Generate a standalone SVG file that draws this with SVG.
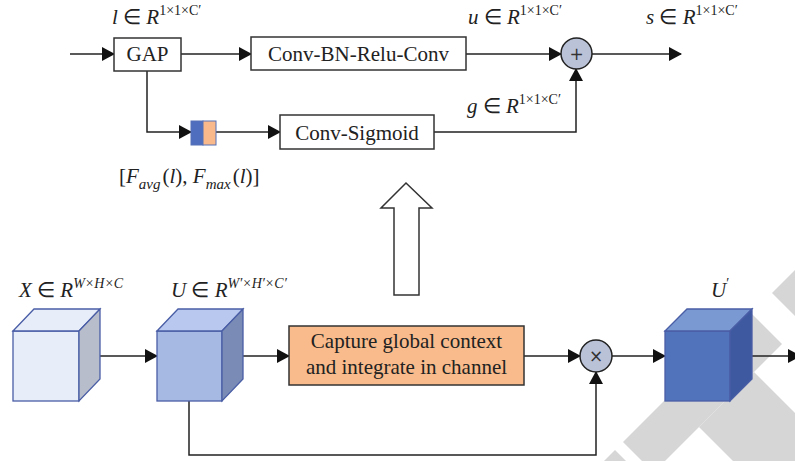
<svg xmlns="http://www.w3.org/2000/svg" width="795" height="461" viewBox="0 0 795 461">
<style>
  .ln{fill:none;stroke:#222;stroke-width:1.5}
  .box{fill:#fff;stroke:#333;stroke-width:1.5}
  .t{font-family:"Liberation Serif","Times New Roman",serif;font-size:21px;fill:#222}
  .m{font-family:"Liberation Serif","Times New Roman",serif;font-size:21px;fill:#222}
  .i{font-style:italic}
  .sup{font-size:14px}
  .op{fill:#bac2d8;stroke:#222;stroke-width:1.5}
  .wm{fill:#d6d6d6}
  .cs{stroke:#4a5ea6;stroke-width:1.3}
</style>
<defs>
  <marker id="ah" markerUnits="userSpaceOnUse" markerWidth="13" markerHeight="14" refX="12" refY="7" orient="auto">
    <path d="M0,0 L13,7 L0,14 z" fill="#111"/>
  </marker>
</defs>
<rect width="795" height="461" fill="#fff"/>
<g id="watermark">
  <polygon class="wm" points="751.5,313.5 782,344 653.5,472.5 623,442"/>
  <polygon class="wm" points="772,293 832,233 863,263 802.5,323.5"/>
  <polygon class="wm" points="699,427 754,372 891,509 836,564"/>
  <polygon class="wm" points="615,450 645.5,480.5 613,513 582.5,482.5"/>
</g>
<g id="connectors">
  <line class="ln" x1="70" y1="54" x2="114" y2="54" marker-end="url(#ah)"/>
  <line class="ln" x1="181" y1="54" x2="251" y2="54" marker-end="url(#ah)"/>
  <line class="ln" x1="466" y1="54" x2="561" y2="54" marker-end="url(#ah)"/>
  <line class="ln" x1="592" y1="54" x2="681" y2="54" marker-end="url(#ah)"/>
  <polyline class="ln" points="147,71 147,132 191,132" marker-end="url(#ah)"/>
  <line class="ln" x1="216" y1="132" x2="280" y2="132" marker-end="url(#ah)"/>
  <polyline class="ln" points="434,132 576,132 576,69" marker-end="url(#ah)"/>
  <line class="ln" x1="100" y1="356" x2="157" y2="356" marker-end="url(#ah)"/>
  <line class="ln" x1="243" y1="356" x2="289" y2="356" marker-end="url(#ah)"/>
  <line class="ln" x1="524" y1="356" x2="580" y2="356" marker-end="url(#ah)"/>
  <line class="ln" x1="612" y1="356" x2="665" y2="356" marker-end="url(#ah)"/>
  <line class="ln" x1="752" y1="356" x2="800" y2="356" marker-end="url(#ah)"/>
  <polyline class="ln" points="189,401 189,455 596,455 596,372" marker-end="url(#ah)"/>
</g>
<g id="bigarrow">
  <polygon points="406,183 432,208 419,208 419,295 394,295 394,208 381,208" fill="#fff" stroke="#333" stroke-width="1.5"/>
</g>
<g id="gap">
  <rect class="box" x="114" y="38" width="67" height="33"/>
  <text class="t" x="147.5" y="61" text-anchor="middle">GAP</text>
</g>
<g id="convbn">
  <rect class="box" x="251" y="37" width="215" height="33"/>
  <text class="t" x="358.5" y="60.5" text-anchor="middle">Conv-BN-Relu-Conv</text>
</g>
<g id="plus">
  <circle class="op" cx="576.5" cy="53.5" r="15.5"/>
  <text x="576.5" y="59.5" text-anchor="middle" font-family="DejaVu Sans,sans-serif" font-size="17" fill="#333">+</text>
</g>
<g id="concat">
  <rect x="191" y="121" width="12" height="24" fill="#4f6fbe" stroke="#5570b8" stroke-width="1"/>
  <rect x="203" y="121" width="13" height="24" fill="#f9b98a" stroke="#5570b8" stroke-width="1"/>
</g>
<g id="convsig">
  <rect class="box" x="280" y="115" width="154" height="34"/>
  <text class="t" x="357" y="139.5" text-anchor="middle">Conv-Sigmoid</text>
</g>
<g id="labels-top">
  <text class="m" x="112" y="24"><tspan class="i">l</tspan> ∈ <tspan class="i">R</tspan><tspan class="sup" dy="-9">1×1×C′</tspan></text>
  <text class="m" x="468" y="24"><tspan class="i">u</tspan> ∈ <tspan class="i">R</tspan><tspan class="sup" dy="-9">1×1×C′</tspan></text>
  <text class="m" x="646" y="24"><tspan class="i">s</tspan> ∈ <tspan class="i">R</tspan><tspan class="sup" dy="-9">1×1×C′</tspan></text>
  <text class="m" x="467" y="113"><tspan class="i">g</tspan> ∈ <tspan class="i">R</tspan><tspan class="sup" dy="-9">1×1×C′</tspan></text>
  <text class="m" x="119" y="183">[<tspan class="i">F</tspan><tspan class="i" font-size="15" dy="6">avg</tspan><tspan dy="-6" dx="2">(</tspan><tspan class="i">l</tspan>), <tspan class="i">F</tspan><tspan class="i" font-size="15" dy="6">max</tspan><tspan dy="-6" dx="2">(</tspan><tspan class="i">l</tspan>)]</text>
</g>
<g id="cube-x">
  <rect x="13" y="331" width="66" height="70" fill="#e8edfa" class="cs"/>
  <polygon points="13,331 34,309 100,309 79,331" fill="#e8edfa" class="cs"/>
  <polygon points="79,331 100,309 100,379 79,401" fill="#b8bdcb" class="cs"/>
  <text class="m" x="19" y="297"><tspan class="i">X</tspan> ∈ <tspan class="i">R</tspan><tspan class="sup i" dy="-9">W×H×C</tspan></text>
</g>
<g id="cube-u">
  <rect x="157" y="331" width="65" height="70" fill="#a6b9e3" class="cs"/>
  <polygon points="157,331 178,309 243,309 222,331" fill="#b8c8ee" class="cs"/>
  <polygon points="222,331 243,309 243,379 222,401" fill="#7a8cb6" class="cs"/>
  <text class="m" x="171" y="297"><tspan class="i">U</tspan> ∈ <tspan class="i">R</tspan><tspan class="sup i" dy="-9">W′×H′×C′</tspan></text>
</g>
<g id="capture">
  <rect x="289" y="326" width="235" height="59" fill="#f9bb8b" stroke="#333" stroke-width="1.5"/>
  <text class="t" x="406.5" y="348" text-anchor="middle" font-size="22">Capture global context</text>
  <text class="t" x="406.5" y="374" text-anchor="middle" font-size="22">and integrate in channel</text>
</g>
<g id="times">
  <circle class="op" cx="596" cy="356" r="16"/>
  <text x="596" y="362" text-anchor="middle" font-family="DejaVu Sans,sans-serif" font-size="17" fill="#333">×</text>
</g>
<g id="cube-u2">
  <rect x="665" y="331" width="65" height="70" fill="#5073bb" class="cs"/>
  <polygon points="665,331 687,309 752,309 730,331" fill="#7a98d1" class="cs"/>
  <polygon points="730,331 752,309 752,379 730,401" fill="#3e59a0" class="cs"/>
  <text class="m" x="711" y="297"><tspan class="i">U</tspan><tspan class="sup" dy="-9">′</tspan></text>
</g>
</svg>
